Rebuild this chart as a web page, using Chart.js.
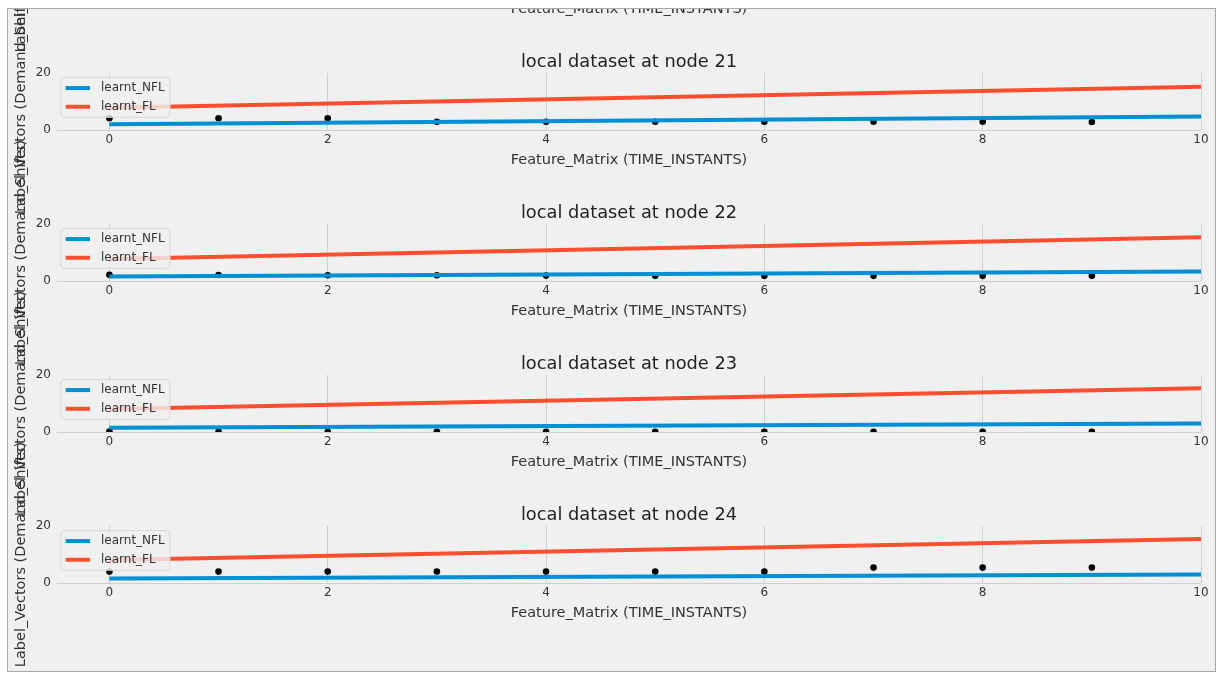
<!DOCTYPE html>
<html>
<head>
<meta charset="utf-8">
<title>local dataset at node 21-24</title>
<script src="https://cdn.jsdelivr.net/npm/chart.js@4.4.1/dist/chart.umd.min.js"></script>
<style>
    html, body { margin: 0; padding: 0; background: #fff; width: 1218px; height: 673px; overflow: hidden; }
    #frame {
        position: absolute; left: 7px; top: 8px; width: 1209px; height: 664px;
        box-sizing: border-box; border: 1px solid #a9a9a9; background: #f0f0f0; overflow: hidden;
    }
    #frame canvas { position: absolute; left: -8px; }
</style>
</head>
<body>
<div id="frame"></div>
<script>
// Four stacked subplots (matplotlib fivethirtyeight look), screenshot cut at the top.

const nodes = ['21', '22', '23', '24'];
const sampleX = [0, 1, 2, 3, 4, 5, 6, 7, 8, 9];
const fitX = [0, 10];
const xTicks = [0, 2, 4, 6, 8, 10];
const yTicks = [0, 20];

// black dots: observed label vectors per node
const demand21 = [4.1, 4.1, 4.1, 2.9, 2.9, 2.9, 2.9, 2.9, 2.9, 2.8];
const demand22 = [2.2, 2.1, 2.0, 2.0, 1.9, 1.8, 1.8, 1.8, 1.8, 1.8];
const demand23 = [0.2, 0.1, 0.1, 0.1, 0.1, 0.1, 0.1, 0.1, 0.1, 0.1];
const demand24 = [4.0, 4.0, 4.0, 4.0, 4.0, 4.0, 4.0, 5.4, 5.4, 5.4];

// fitted lines, values at x = 0 and x = 10
const nfl21 = [2.0, 4.7];
const fl21 = [7.8, 15.2];
const nfl22 = [1.6, 3.3];
const fl22 = [7.7, 15.3];
const nfl23 = [1.5, 3.0];
const fl23 = [8.1, 15.3];
const nfl24 = [1.6, 3.0];
const fl24 = [8.1, 15.4];

const X_LABEL = 'Feature_Matrix (TIME_INSTANTS)';
const Y_LABEL = 'Label_Vectors (Demand_Shifts)';

const BLUE = '#008fd5';
const RED = '#fc4f30';
const GRID = '#cfcfcf';
const TEXT = '#333';

// layout (page pixels)
const FIRST_AREA_TOP = 73;
const STEP = 151;
const AREA_H = 57;
const X_AXIS_H = 38.7;
const CANVAS_W = 1218;
const CANVAS_H = 330;
const AREA_OFFSET = 136; // chart area top inside each canvas

Chart.defaults.font.family = '"DejaVu Sans", sans-serif';
Chart.defaults.color = TEXT;

const pts = (xs, ys) => ys.map((y, i) => ({ x: xs[i], y }));

// the subplot above is cut off: only its axis labels reach into view
const panels = [
    { node: null, demand: [], nfl: [], fl: [] },
    { node: nodes[0], demand: demand21, nfl: nfl21, fl: fl21 },
    { node: nodes[1], demand: demand22, nfl: nfl22, fl: fl22 },
    { node: nodes[2], demand: demand23, nfl: nfl23, fl: fl23 },
    { node: nodes[3], demand: demand24, nfl: nfl24, fl: fl24 },
];

// matplotlib-style legend box, upper left inside the axes
const legendBox = {
    id: 'legendBox',
    afterDatasetsDraw(chart) {
        const items = chart.data.datasets.filter((d) => d.label);
        if (!items.length) return;
        const { ctx, chartArea: a } = chart;
        const x = a.left + 4;
        const y = a.top + 4.7;
        ctx.save();
        ctx.beginPath();
        ctx.roundRect(x, y, 109, 39.6, 3);
        ctx.fillStyle = 'rgba(240,240,240,0.8)';
        ctx.fill();
        ctx.strokeStyle = '#d6d6d6';
        ctx.lineWidth = 1;
        ctx.stroke();
        ctx.font = '12px "DejaVu Sans"';
        ctx.textBaseline = 'middle';
        items.forEach((d, i) => {
            const cy = y + 10.4 + i * 18.7;
            ctx.strokeStyle = d.borderColor;
            ctx.lineWidth = 4;
            ctx.beginPath();
            ctx.moveTo(x + 4.7, cy);
            ctx.lineTo(x + 29, cy);
            ctx.stroke();
            ctx.fillStyle = TEXT;
            ctx.fillText(d.label, x + 40, cy);
        });
        ctx.restore();
    },
};

const frame = document.getElementById('frame');

panels.forEach((p, i) => {
    const canvas = document.createElement('canvas');
    canvas.width = CANVAS_W;
    canvas.height = CANVAS_H;
    const areaTop = FIRST_AREA_TOP + (i - 1) * STEP;
    canvas.style.top = `${areaTop - AREA_OFFSET - 9}px`;
    frame.appendChild(canvas);

    const datasets = p.node
        ? [
              {
                  label: 'learnt_NFL',
                  data: pts(fitX, p.nfl),
                  showLine: true,
                  borderColor: BLUE,
                  borderWidth: 4,
                  pointRadius: 0,
                  order: 1,
                  clip: 0,
              },
              {
                  label: 'learnt_FL',
                  data: pts(fitX, p.fl),
                  showLine: true,
                  borderColor: RED,
                  borderWidth: 4,
                  pointRadius: 0,
                  order: 2,
                  clip: 0,
              },
              {
                  data: pts(sampleX, p.demand),
                  backgroundColor: '#000',
                  borderWidth: 0,
                  pointRadius: 3.3,
                  order: 3,
                  clip: 0,
              },
          ]
        : [];

    new Chart(canvas, {
        type: 'scatter',
        data: { datasets },
        plugins: [legendBox],
        options: {
            responsive: false,
            animation: false,
            devicePixelRatio: 1,
            events: [],
            layout: {
                padding: { top: 114.6, bottom: CANVAS_H - AREA_OFFSET - AREA_H - X_AXIS_H, left: 0, right: 17 },
            },
            plugins: {
                legend: { display: false },
                tooltip: { enabled: false },
                title: {
                    display: !!p.node,
                    fullSize: false,
                    text: `local dataset at node ${p.node}`,
                    color: '#222',
                    font: { size: 17.8, weight: 'normal', lineHeight: 1.2 },
                    padding: { top: 0, bottom: 0 },
                },
            },
            scales: {
                x: {
                    type: 'linear',
                    min: -0.48,
                    max: 10,
                    afterBuildTicks: (s) => { s.ticks = xTicks.map((v) => ({ value: v })); },
                    afterFit: (s) => { s.height = X_AXIS_H; },
                    border: { display: false },
                    grid: { color: GRID, lineWidth: 1, drawTicks: false },
                    ticks: { color: TEXT, font: { size: 12 }, padding: 3, maxRotation: 0 },
                    title: {
                        display: true,
                        text: X_LABEL,
                        color: TEXT,
                        font: { size: 14.5, lineHeight: 1.2 },
                        padding: { top: 0, bottom: 0 },
                    },
                },
                y: {
                    min: 0,
                    max: 20,
                    afterBuildTicks: (s) => { s.ticks = yTicks.map((v) => ({ value: v })); },
                    afterFit: (s) => { s.width = 57; },
                    border: { display: false },
                    grid: {
                        color: (c) => (c.tick && c.tick.value === 0 ? GRID : 'rgba(0,0,0,0)'),
                        lineWidth: 1,
                        drawTicks: false,
                    },
                    ticks: { color: TEXT, font: { size: 12 }, padding: 6 },
                    title: {
                        display: true,
                        text: Y_LABEL,
                        color: TEXT,
                        font: { size: 14.5, lineHeight: 1.2 },
                        padding: { top: 12.3, bottom: 0 },
                    },
                },
            },
        },
    });
});
</script>
</body>
</html>
